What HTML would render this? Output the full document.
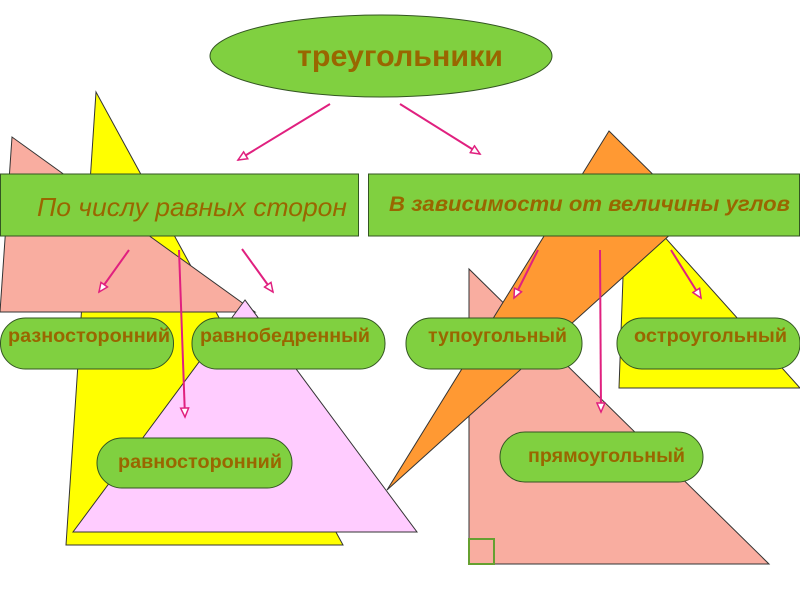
<!DOCTYPE html>
<html><head><meta charset="utf-8"><style>
html,body{margin:0;padding:0;background:#fff;width:800px;height:600px;overflow:hidden}
svg{display:block}
text{font-family:"Liberation Sans",sans-serif;fill:#996600;font-weight:bold}
</style></head><body>
<svg width="800" height="600" viewBox="0 0 800 600" xmlns="http://www.w3.org/2000/svg">
<defs>
<marker id="a" markerWidth="12" markerHeight="10" refX="10" refY="5" orient="auto" markerUnits="userSpaceOnUse">
<path d="M1,1 L10,5 L1,9 Z" fill="#fff" stroke="#e0207f" stroke-width="1.5"/>
</marker>
</defs>
<g stroke="#333" stroke-width="1">
<polygon points="96,92 66,545 343,545" fill="#ffff00"/>
<polygon points="12,137 0,312 255,312" fill="#f9ada0"/>
<polygon points="245,300 73,532 417,532" fill="#ffccff"/>
<polygon points="469,269 469,564 769,564" fill="#f9ada0"/>
<polygon points="626,194 619,388 800,388" fill="#ffff00"/>
<polygon points="609,131 693,214 387,490" fill="#ff9933"/>
</g>
<rect x="469" y="539" width="25" height="25" fill="none" stroke="#66a030" stroke-width="2"/>
<ellipse cx="381" cy="56" rx="171" ry="41" fill="#80d040" stroke="#335522"/>
<text x="297" y="66" font-size="30" textLength="206" lengthAdjust="spacingAndGlyphs">треугольники</text>
<rect x="0.5" y="174" width="358" height="62" fill="#80d040" stroke="#335522"/>
<text x="37" y="216" font-size="26" font-style="italic" style="font-weight:normal" textLength="310" lengthAdjust="spacingAndGlyphs">По числу равных сторон</text>
<rect x="368.5" y="174" width="431" height="62" fill="#80d040" stroke="#335522"/>
<text x="389" y="211" font-size="21" font-style="italic" textLength="401" lengthAdjust="spacingAndGlyphs">В зависимости от величины углов</text>
<g fill="#80d040" stroke="#335522">
<rect x="0.5" y="318" width="173" height="51" rx="25"/>
<rect x="192" y="318" width="193" height="51" rx="25"/>
<rect x="97" y="438" width="195" height="50" rx="25"/>
<rect x="406" y="318" width="176" height="51" rx="25"/>
<rect x="617" y="318" width="183" height="51" rx="25"/>
<rect x="500" y="432" width="203" height="50" rx="25"/>
</g>
<g font-size="19">
<text x="8" y="342" textLength="162" lengthAdjust="spacingAndGlyphs">разносторонний</text>
<text x="200" y="342" textLength="170" lengthAdjust="spacingAndGlyphs">равнобедренный</text>
<text x="118" y="468" textLength="164" lengthAdjust="spacingAndGlyphs">равносторонний</text>
<text x="428" y="342" textLength="139" lengthAdjust="spacingAndGlyphs">тупоугольный</text>
<text x="634" y="342" textLength="153" lengthAdjust="spacingAndGlyphs">остроугольный</text>
<text x="528" y="462" textLength="157" lengthAdjust="spacingAndGlyphs">прямоугольный</text>
</g>
<g stroke="#e0207f" stroke-width="2" marker-end="url(#a)">
<line x1="330" y1="104" x2="238" y2="160"/>
<line x1="400" y1="104" x2="480" y2="154"/>
<line x1="129" y1="250" x2="99" y2="292"/>
<line x1="242" y1="249" x2="273" y2="292"/>
<line x1="179" y1="250" x2="185" y2="417"/>
<line x1="538" y1="250" x2="514" y2="298"/>
<line x1="600" y1="250" x2="601" y2="412"/>
<line x1="671" y1="250" x2="701" y2="298"/>
</g>
</svg>
</body></html>
